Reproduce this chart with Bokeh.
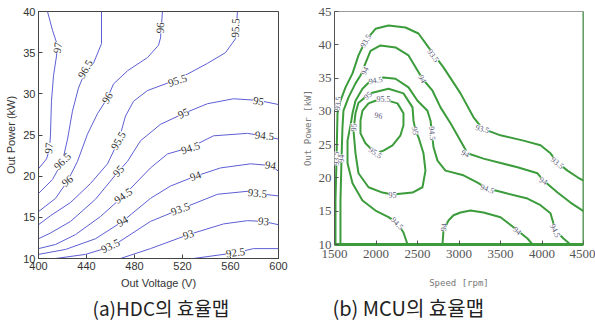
from bokeh.plotting import figure
from bokeh.models import ColumnDataSource, LabelSet, Span, Title, FixedTicker
from bokeh.layouts import row, column
from bokeh.embed import file_html
from bokeh.resources import INLINE

# ---------------- (a) HDC efficiency map : Out Voltage [V] vs Out Power [kW]
hdc_x_ticks = [400, 440, 480, 520, 560, 600]
hdc_y_ticks = [10, 15, 20, 25, 30, 35, 40]

hdc_970_v = [407.5, 411.7, 415.8, 415.0, 412.5, 410.8, 410.0, 409.2, 406.7, 400]
hdc_970_p = [40, 37.7, 35.9, 34.6, 32.2, 29.1, 25.1, 23.3, 22.1, 20.9]
hdc_965_v = [452.5, 452.5, 445.8, 439.2, 433.3, 428.3, 424.2, 420.0, 411.7, 400]
hdc_965_p = [40, 36.1, 33.7, 32.8, 30.7, 27.9, 24.5, 21.8, 19.6, 17.9]
hdc_960_v = [503.3, 501.7, 500.0, 490.8, 474.2, 462.5, 457.5, 449.2, 440.8, 432.5, 424.2, 414.2, 400]
hdc_960_p = [40, 36.8, 35.9, 34.4, 32.8, 31.2, 29.5, 27.6, 25.1, 21.8, 19.4, 17.3, 15.7]
hdc_955_v = [565.8, 564.2, 555.8, 540.8, 524.2, 507.5, 490.8, 479.2, 472.5, 466.7, 457.5, 443.3, 426.7, 410.0, 400]
hdc_955_p = [40, 36.7, 35.0, 33.7, 32.4, 31.3, 30.4, 29.1, 27.3, 24.3, 21.5, 19.1, 16.8, 15.2, 14.1]
hdc_950_v = [600, 583.3, 562.5, 540.8, 520.8, 501.7, 485.0, 474.2, 466.7, 447.5, 426.7, 410.0, 400]
hdc_950_p = [28.7, 29.2, 29.4, 28.8, 27.6, 26.3, 24.3, 21.8, 20.6, 17.2, 14.5, 13.1, 12.4]
hdc_945_v = [600, 586.7, 574.2, 545.8, 526.7, 507.5, 493.3, 470.8, 451.7, 430.8, 414.2, 400]
hdc_945_p = [24.5, 24.9, 25.2, 24.9, 23.5, 22.7, 21.0, 17.6, 15.1, 12.9, 11.7, 11.2]
hdc_940_v = [600, 593.3, 576.7, 551.7, 530.8, 510.0, 493.3, 470.0, 447.5, 422.5, 400]
hdc_940_p = [20.6, 21.3, 21.5, 21.0, 20.0, 18.8, 17.3, 14.5, 12.4, 11.1, 10.5]
hdc_935_v = [600, 582.5, 576.7, 549.2, 518.3, 493.3, 461.7, 439.2, 414.2]
hdc_935_p = [17.6, 17.9, 18.2, 17.8, 16.0, 14.5, 11.5, 10.5, 10.0]
hdc_930_v = [600, 587.5, 574.2, 554.2, 525.0, 493.3, 468.3]
hdc_930_p = [14.1, 14.5, 14.6, 14.2, 12.9, 11.2, 10.0]
hdc_925_v = [600, 579.2, 564.2, 529.2]
hdc_925_p = [11.2, 11.2, 10.7, 10.0]

hdc_lab_text = ["97", "97", "96.5", "96.5", "96", "96", "96", "95.5", "95.5", "95.5",
                "95", "95", "95", "94.5", "94.5", "94.5", "94", "94", "94",
                "93.5", "93.5", "93.5", "93", "93", "92.5"]
hdc_lab_v = [416.0, 408.8, 439.2, 420.0, 501.7, 457.5, 424.2, 564.2, 515.8, 466.7,
             583.3, 520.8, 466.7, 588.3, 526.7, 470.8, 593.3, 530.8, 470.0,
             582.5, 518.3, 460.0, 587.5, 525.0, 564.2]
hdc_lab_p = [35.6, 23.4, 33.0, 21.8, 38.0, 29.5, 19.4, 38.0, 31.6, 24.3,
             29.1, 27.6, 20.6, 24.9, 23.4, 17.6, 21.3, 20.0, 14.5,
             17.9, 16.0, 11.5, 14.5, 12.9, 10.7]
hdc_lab_angle = [82, 85, 60, 45, 88, 60, 40, 88, 18, 60,
                 -10, 25, 48, -5, 18, 35, -8, 20, 30,
                 -5, 20, 25, -5, 18, 8]

# ---------------- (b) MCU efficiency map : Speed [rpm] vs Out Power [kW]
mcu_x_ticks = [1500, 2000, 2500, 3000, 3500, 4000, 4500]
mcu_y_ticks = [10, 15, 20, 25, 30, 35, 40, 45]

mcu_935_s = [1512, 1512, 1524, 1536, 1572, 1633, 1717, 1789, 1873, 1994, 2151, 2355, 2512,
             2633, 2813, 3018, 3175, 3283, 3500, 3777, 3982, 4102, 4187, 4307, 4428, 4500]
mcu_935_p = [10, 16.6, 22.6, 29.7, 31.6, 33.6, 35.7, 38.4, 40.6, 42.4, 42.9, 42.6, 41.7,
             39.6, 36.6, 32.7, 29.1, 27.4, 26.4, 25.6, 24.9, 23.7, 22.3, 21.1, 20.1, 19.6]
mcu_940_s = [1572, 1572, 1584, 1596, 1608, 1669, 1753, 1813, 1934, 2054, 2235, 2392, 2560,
             2681, 2777, 2898, 3018, 3102, 3295, 3705, 3946, 4018, 4187, 4343, 4500]
mcu_940_p = [10, 16.6, 22.6, 27.6, 30.1, 32.1, 34.2, 35.4, 39.1, 39.9, 39.6, 38.4, 34.9,
             33.1, 30.6, 28.2, 25.6, 23.7, 22.9, 21.6, 20.7, 19.6, 17.8, 16.3, 15.0]
mcu_945_s = [2380, 2331, 2259, 2151, 1994, 1837, 1717, 1657, 1657, 1693, 1717, 1753, 1837,
             1910, 1994, 2090, 2235, 2392, 2500, 2620, 2657, 2693, 2741, 2837, 3054, 3223,
             3343, 3536, 3825, 3982, 4102, 4163, 4259, 4343]
mcu_945_p = [10, 11.8, 13.2, 14.1, 15.1, 16.6, 19.2, 22.2, 25.6, 27.9, 29.7, 31.6, 33.4,
             34.3, 34.8, 35.1, 34.9, 33.6, 31.6, 30.1, 28.6, 24.6, 22.6, 21.1, 20.4, 19.3,
             18.4, 17.8, 16.9, 15.9, 14.7, 12.1, 10.9, 10.0]
mcu_950_s = [1898, 1789, 1753, 1729, 1753, 1789, 1910, 2078, 2199, 2440, 2560, 2596, 2572,
             2512, 2476, 2452, 2440, 2331, 2151, 1958, 1898]
mcu_950_p = [32.4, 31.3, 29.7, 27.1, 23.7, 20.7, 18.6, 17.8, 17.5, 17.8, 18.6, 21.1, 23.7,
             26.1, 27.1, 28.6, 30.6, 32.7, 33.4, 32.8, 32.4]
mcu_955_s = [2090, 2259, 2331, 2331, 2295, 2199, 2090, 1994, 1873, 1813, 1813, 1837, 1910, 1994, 2090]
mcu_955_p = [31.8, 31.2, 29.7, 27.9, 26.4, 24.9, 24.1, 23.7, 25.2, 26.7, 28.6, 30.1, 31.2, 31.6, 31.8]
mcu_940b_s = [2801, 2813, 2873, 2934, 3018, 3139, 3295, 3500, 3657, 3825, 3886]
mcu_940b_p = [10, 12.1, 13.6, 14.4, 14.8, 15.1, 14.8, 14.1, 12.6, 10.9, 10.0]

mcu_lab_text = ["93.5", "93.5", "93.5", "93.5", "93.5", "93.5",
                "94", "94", "94", "94", "94", "94", "94",
                "94.5", "94.5", "94.5", "94.5", "94.5",
                "95", "95", "95", "95", "95.5", "95.5", "96"]
mcu_lab_s = [1536, 1873, 2693, 3283, 4187, 1524,
             1861, 2560, 3078, 4018, 1584, 2813, 3705,
             1994, 2681, 3343, 2259, 4163,
             1898, 1729, 2476, 2199, 2090, 1994, 2030]
mcu_lab_p = [31.2, 40.6, 38.4, 27.4, 22.3, 22.9,
             36.1, 34.9, 23.7, 19.6, 22.9, 12.6, 12.1,
             34.7, 26.7, 18.4, 13.2, 12.1,
             32.4, 27.6, 27.1, 17.5, 31.8, 23.8, 29.4]
mcu_lab_angle = [85, 60, -55, -15, -40, 90,
                 65, -60, -25, -30, 90, 85, -40,
                 10, -85, -20, -45, -65,
                 40, 88, -80, 0, 0, -35, -10]

captions = ["(a)HDC의 효율맵", "(b) MCU의 효율맵"]

# ---------------- styles
HDC_LINE = "#5e5ed4"
MCU_LINE = "#3c9c3c"
KFONT = "Noto Sans CJK KR"


def deco_axes(p, xt, yt, col, tick_font, tick_size, tick_color):
    xa, ya = p.xaxis[0], p.yaxis[0]
    xa.ticker = FixedTicker(ticks=xt)
    ya.ticker = FixedTicker(ticks=yt)
    for ax in (xa, ya):
        ax.major_tick_in = 4
        ax.major_tick_out = 0
        ax.minor_tick_line_color = None
        ax.major_tick_line_color = col
        ax.axis_line_color = col
        ax.major_label_text_font = tick_font
        ax.major_label_text_font_size = tick_size
        ax.major_label_text_color = tick_color
        ax.major_label_standoff = 3
        ax.axis_label_standoff = 3
        ax.axis_label_text_font_style = "normal"
    p.grid.visible = False
    p.background_fill_color = "white"
    p.border_fill_color = "white"
    return xa, ya


# ---- figure (a)
pa = figure(frame_width=240, frame_height=247, x_range=(400, 600), y_range=(10, 40),
            output_backend="svg", toolbar_location=None,
            min_border_left=38, min_border_right=20, min_border_top=11, min_border_bottom=64)
pa.outline_line_color = "#444444"
xa, ya = deco_axes(pa, hdc_x_ticks, hdc_y_ticks, "#444444", "Liberation Sans", "11px", "#333333")
xa.axis_label = "Out Voltage (V)"
ya.axis_label = "Out Power (kW)"
for ax in (xa, ya):
    ax.axis_label_text_font = "Liberation Sans"
    ax.axis_label_text_font_size = "11px"
    ax.axis_label_text_color = "#333333"
xa.axis_label_standoff = 4

for xs, ys in ((hdc_970_v, hdc_970_p), (hdc_965_v, hdc_965_p), (hdc_960_v, hdc_960_p),
               (hdc_955_v, hdc_955_p), (hdc_950_v, hdc_950_p), (hdc_945_v, hdc_945_p),
               (hdc_940_v, hdc_940_p), (hdc_935_v, hdc_935_p), (hdc_930_v, hdc_930_p),
               (hdc_925_v, hdc_925_p)):
    pa.line(xs, ys, line_color=HDC_LINE, line_width=1)

src_a = ColumnDataSource(dict(x=hdc_lab_v, y=hdc_lab_p, t=hdc_lab_text, a=hdc_lab_angle))
pa.add_layout(LabelSet(x="x", y="y", text="t", angle="a", angle_units="deg", source=src_a,
                       text_align="center", text_baseline="middle",
                       text_font="Liberation Sans", text_font_size="11px", text_color="#333333",
                       background_fill_color="white"))
pa.add_layout(Title(text=captions[0], align="left", offset=54, text_font=KFONT, text_font_size="19px",
                    text_font_style="normal", text_color="#222222", standoff=0), "below")

# ---- figure (b)
pb = figure(frame_width=249, frame_height=233, x_range=(1500, 4500), y_range=(10, 45),
            output_backend="svg", toolbar_location=None,
            min_border_left=36, min_border_right=12, min_border_top=11, min_border_bottom=78)
pb.outline_line_color = "#9a9a9a"
xb, yb = deco_axes(pb, mcu_x_ticks, mcu_y_ticks, "#555555", "Liberation Sans Narrow", "13px", "#555555")
xb.axis_line_color = MCU_LINE
xb.axis_line_width = 3
xb.major_label_standoff = 5
xb.axis_label = "Speed [rpm]"
yb.axis_label = "Out Power [kW]"
for ax in (xb, yb):
    ax.axis_label_text_font = "DejaVu Sans Mono"
    ax.axis_label_text_font_size = "9px"
    ax.axis_label_text_color = "#777777"
xb.axis_label_standoff = 17

for xs, ys in ((mcu_935_s, mcu_935_p), (mcu_940_s, mcu_940_p), (mcu_945_s, mcu_945_p),
               (mcu_950_s, mcu_950_p), (mcu_955_s, mcu_955_p), (mcu_940b_s, mcu_940b_p)):
    pb.line(xs, ys, line_color=MCU_LINE, line_width=2)
pb.add_layout(Span(location=mcu_x_ticks[-1], dimension="height", line_color=MCU_LINE, line_width=2))

src_b = ColumnDataSource(dict(x=mcu_lab_s, y=mcu_lab_p, t=mcu_lab_text, a=mcu_lab_angle))
pb.add_layout(LabelSet(x="x", y="y", text="t", angle="a", angle_units="deg", source=src_b,
                       text_align="center", text_baseline="middle",
                       text_font="Liberation Sans Narrow", text_font_size="8px", text_color="#5a5a78",
                       background_fill_color="white"))
pb.add_layout(Title(text=captions[1], align="left", offset=-2, text_font=KFONT, text_font_size="20px",
                    text_font_style="normal", text_color="#222222", standoff=0), "below")

layout = row(column(pa), column(pb))
open("out.html", "w").write(file_html(layout, INLINE))
